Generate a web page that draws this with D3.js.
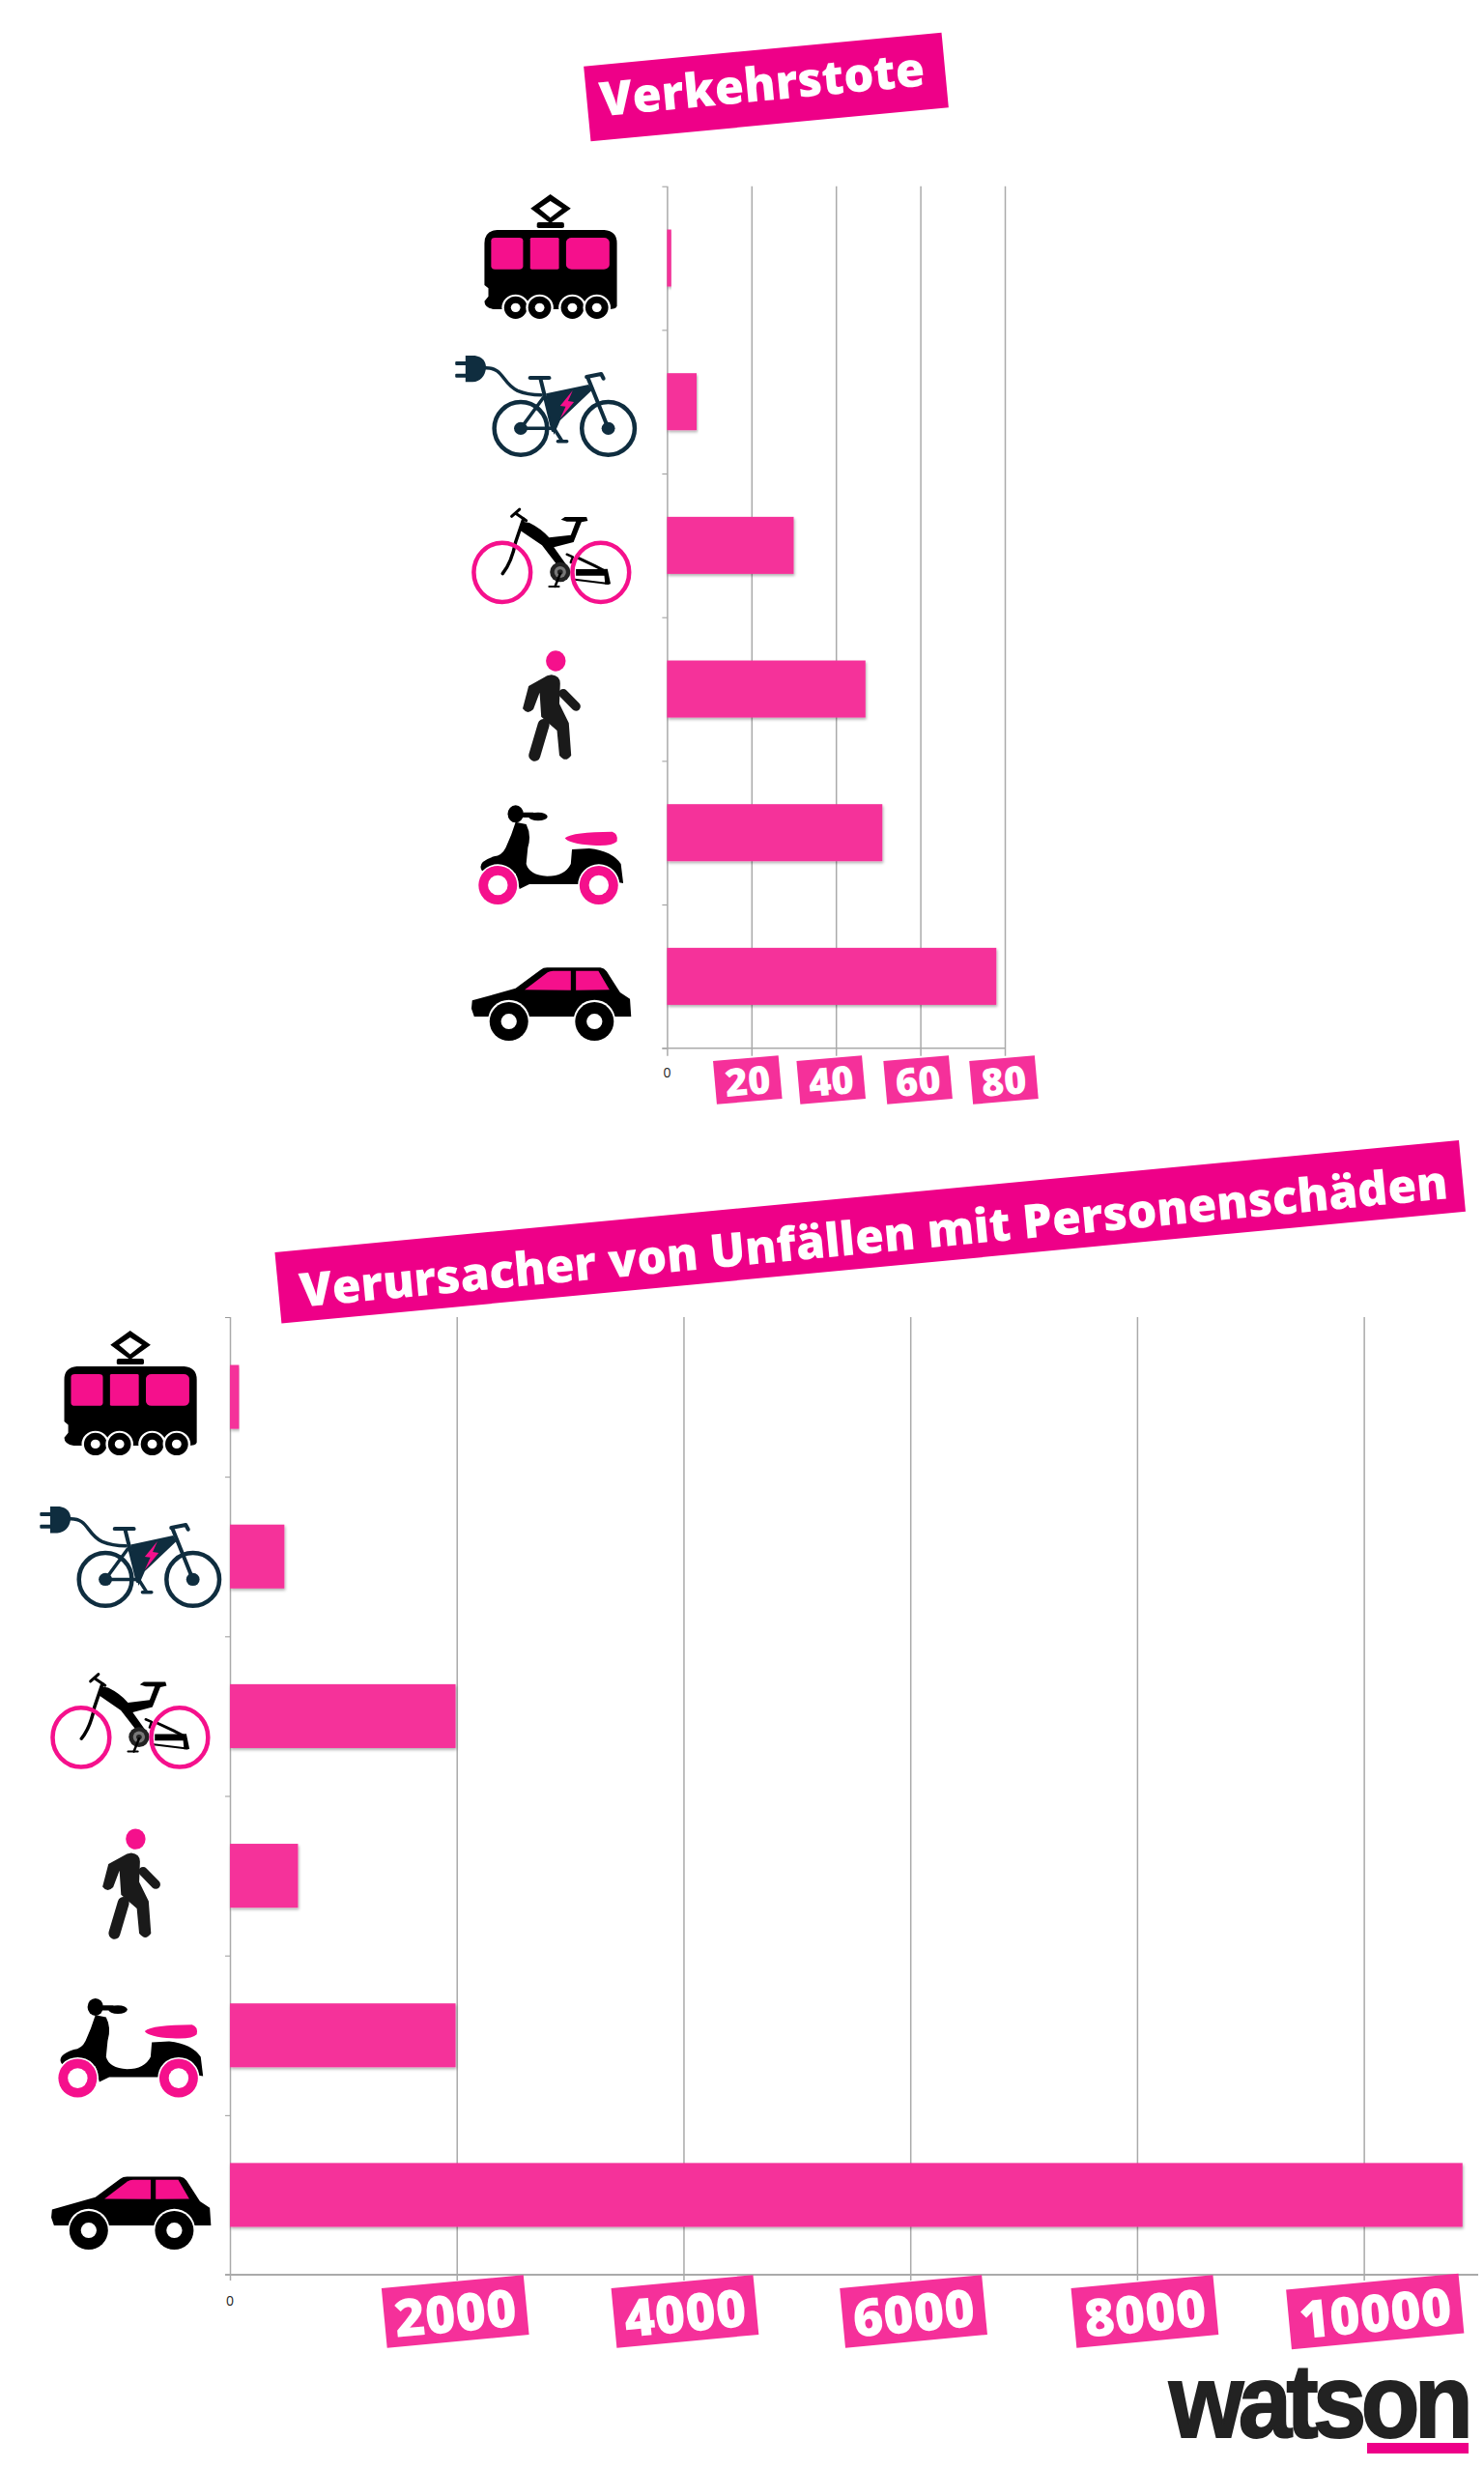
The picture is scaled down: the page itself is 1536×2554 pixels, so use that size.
<!DOCTYPE html>
<html>
<head>
<meta charset="utf-8">
<script src="https://d3js.org/d3.v7.min.js"></script>
<style>
    html, body { margin: 0; padding: 0; background: #fff; }
    svg { display: block; }
    text { font-family: "Open Sans", sans-serif; }
</style>
</head>
<body>
<div id="chart"></div>
<script>
// Chart data
const categories = ['tram', 'ebike', 'bike', 'walker', 'scooter', 'car'];
const deaths = [1, 7, 30, 47, 51, 78];
const causers = [80, 480, 1990, 600, 1990, 10870];
const deathTicks = [0, 20, 40, 60, 80];
const causerTicks = [0, 2000, 4000, 6000, 8000, 10000];
const titleDeaths = 'Verkehrstote';
const titleCausers = 'Verursacher von Unfällen mit Personenschäden';

const PINK = '#f5309a';
const TITLE_PINK = '#ee0088';
const ICON_PINK = '#f5108c';
const NAVY = '#0f2d3f';

const svg = d3.select('#chart')
    .append('svg')
    .attr('width', 1536)
    .attr('height', 2554);

// Soft shadow under the bars
const shadow = svg.append('defs').append('filter')
    .attr('id', 'bar-shadow')
    .attr('x', '-5%').attr('y', '-10%')
    .attr('width', '110%').attr('height', '125%');
shadow.append('feDropShadow')
    .attr('dx', 1).attr('dy', 2)
    .attr('stdDeviation', 1.5)
    .attr('flood-color', '#000')
    .attr('flood-opacity', 0.3);

// Icon helpers. Icon shapes are sketched on a 2.45 x 3 grid, see placeIcon
function ell(g, cx, cy, rx, ry, fill) {
    return g.append('ellipse')
        .attr('cx', cx).attr('cy', cy)
        .attr('rx', rx).attr('ry', ry)
        .attr('fill', fill);
}

function ring(g, cx, cy, rx, ry, color, width) {
    return ell(g, cx, cy, rx, ry, 'none')
        .attr('stroke', color)
        .attr('stroke-width', width)
        .attr('vector-effect', 'non-scaling-stroke');
}

function shape(g, d, fill) {
    return g.append('path').attr('d', d).attr('fill', fill);
}

function line(g, d, color, width) {
    return g.append('path')
        .attr('d', d)
        .attr('fill', 'none')
        .attr('stroke', color)
        .attr('stroke-width', width)
        .attr('stroke-linecap', 'round')
        .attr('stroke-linejoin', 'round')
        .attr('vector-effect', 'non-scaling-stroke');
}

function box(g, x, y, w, h, r, fill) {
    return g.append('rect')
        .attr('x', x).attr('y', y)
        .attr('width', w).attr('height', h)
        .attr('rx', r).attr('ry', r)
        .attr('fill', fill);
}

const iconDrawers = {
    tram(g) {
        shape(g, 'M293,93 L345,137 L293,183 L243,137 Z M293,114 L265,137 L293,166 L323,137 Z', '#000')
            .attr('fill-rule', 'evenodd');
        box(g, 259, 180, 69, 18, 5, '#000');
        shape(g, 'M158,204 L430,204 Q462,207 462,245 L462,440 Q460,450 440,450 L150,450 Q126,445 126,425 L136,410 L136,385 L126,375 L126,245 Q126,207 158,204 Z', '#000');
        box(g, 143, 228, 81, 98, 10, ICON_PINK);
        box(g, 242, 228, 73, 98, 4, ICON_PINK);
        box(g, 333, 228, 110, 98, 14, ICON_PINK);
        [205, 266, 349, 411].forEach(x => {
            ell(g, x, 445, 35, 41, '#fff');
            ell(g, x, 445, 29, 35, '#000');
            ell(g, x, 445, 12, 14, '#fff');
        });
    },
    ebike(g) {
        shape(g, 'M78,594 L102,594 Q130,600 130,632 Q126,672 96,676 L78,676 Z', NAVY);
        box(g, 52, 612, 30, 12, 3, NAVY);
        box(g, 52, 650, 30, 12, 3, NAVY);
        line(g, 'M128,632 C175,630 170,680 210,703 Q235,716 270,716', NAVY, 3.5);
        box(g, 237, 657, 58, 12, 5, NAVY);
        line(g, 'M268,665 L300,825', NAVY, 4);
        shape(g, 'M282,712 L390,684 L398,702 L318,795 L302,840 L290,770 Z', NAVY);
        shape(g, 'M350,702 L318,750 L332,752 L318,790 L353,738 L338,735 Z', ICON_PINK);
        line(g, 'M388,662 L440,820', NAVY, 4);
        line(g, 'M385,660 L422,651 L428,665', NAVY, 4);
        ring(g, 218, 820, 67, 82, NAVY, 4.5);
        ring(g, 440, 820, 67, 82, NAVY, 4.5);
        ell(g, 218, 820, 17, 20, NAVY);
        ell(g, 440, 820, 17, 20, NAVY);
        line(g, 'M218,820 L300,820 M218,820 L275,725', NAVY, 3.5);
        line(g, 'M305,825 L322,858 M312,860 L335,860', NAVY, 3.5);
    },
    bike(g) {
        line(g, 'M195,1092 L215,1070 M208,1085 L232,1105', '#000', 3);
        line(g, 'M225,1100 L205,1172 Q195,1235 172,1270', '#000', 3.5);
        shape(g, 'M222,1108 L240,1112 Q270,1130 290,1158 L345,1150 L358,1108 L335,1108 L320,1102 L330,1094 L385,1094 L388,1106 L372,1110 L352,1172 L302,1188 L335,1245 L318,1255 L272,1182 L216,1135 Z', '#000');
        ell(g, 318, 1265, 26, 31, '#222');
        ell(g, 318, 1265, 15, 18, '#777');
        ell(g, 318, 1265, 7, 8, '#222');
        line(g, 'M305,1310 L318,1270', '#000', 2.5);
        line(g, 'M290,1310 L315,1310', '#000', 2);
        line(g, 'M335,1210 L350,1218 L345,1235', '#000', 2.5);
        line(g, 'M365,1222 L405,1245 L432,1262', '#000', 3);
        shape(g, 'M358,1256 L420,1256 L438,1255 L446,1302 L432,1303 L430,1276 L358,1276 Z', '#000');
        line(g, 'M355,1288 L440,1301', '#000', 2);
        ring(g, 171, 1266, 72, 92, ICON_PINK, 4.5);
        ring(g, 421, 1266, 72, 92, ICON_PINK, 4.5);
    },
    walker(g) {
        ell(g, 307, 102, 25, 32, ICON_PINK);
        shape(g, 'M296,145 Q318,148 318,172 L316,235 L340,295 L346,395 Q332,420 316,395 L310,318 L270,275 L266,200 L250,252 Q235,270 223,250 L238,180 L285,148 Z', '#1a1a1a');
        line(g, 'M276,300 L253,395', '#1a1a1a', 12);
        line(g, 'M326,203 L358,243', '#1a1a1a', 9.5);
    },
    scooter(g) {
        shape(g, 'M205,600 L232,607 Q246,640 236,680 L232,730 Q240,765 285,768 Q330,768 345,730 L348,685 L392,682 Q450,690 472,730 L478,790 L460,786 L365,793 L240,793 L215,808 L205,760 L120,752 Q105,725 150,707 Q170,705 180,680 Q195,640 205,600 Z', '#000');
        ell(g, 205, 575, 20, 27, '#000');
        box(g, 222, 570, 30, 16, 3, '#000');
        ell(g, 262, 583, 24, 13, '#000');
        shape(g, 'M330,650 Q350,630 450,630 Q466,636 462,660 Q450,676 400,672 Q340,668 330,650 Z', ICON_PINK);
        [160, 416].forEach(x => {
            ell(g, x, 796, 53, 65, '#fff');
            ell(g, x, 796, 49, 60, ICON_PINK);
            ell(g, x, 796, 25, 31, '#fff');
        });
    },
    car(g) {
        shape(g, 'M95,1155 L205,1117 L268,1060 Q275,1053 285,1053 L420,1053 Q430,1055 436,1065 L470,1130 L495,1150 L498,1205 L100,1205 L93,1180 Z', '#000');
        shape(g, 'M228,1122 L286,1068 Q292,1063 300,1063 L345,1063 L345,1123 Z', ICON_PINK);
        shape(g, 'M358,1063 L415,1063 L443,1122 L358,1123 Z', ICON_PINK);
        [188, 405].forEach(x => {
            ell(g, x, 1218, 53, 65, '#fff');
            ell(g, x, 1220, 49, 60, '#000');
            ell(g, x, 1220, 20, 24, '#fff');
        });
    }
};

// Vertical centre of each icon on its sketch grid
const iconCentres = {tram: 291, ebike: 737, bike: 1182, walker: 189, scooter: 633, car: 1080};

function placeIcon(parent, name, x0, cy) {
    const g = parent.append('g')
        .attr('transform', `translate(${x0 - 589 / 2.45},${cy - iconCentres[name] / 3}) scale(${1 / 2.45},${1 / 3})`);
    iconDrawers[name](g);
}

// Tilted pink label with white text, width follows the text
function pinkLabel(parent, cx, cy, label, opts) {
    const g = parent.append('g')
        .attr('transform', `translate(${cx},${cy}) rotate(${opts.angle})`);
    const rect = g.append('rect').attr('fill', opts.fill);
    const text = g.append('text')
        .attr('text-anchor', 'middle')
        .attr('dominant-baseline', 'central')
        .attr('x', opts.textDx || 0)
        .attr('y', opts.textDy || 0)
        .attr('fill', '#fff')
        .attr('font-weight', 800)
        .attr('font-size', opts.fontSize)
        .text(label);
    const w = opts.width || text.node().getComputedTextLength() + opts.pad;
    rect.attr('x', -w / 2).attr('y', -opts.height / 2)
        .attr('width', w).attr('height', opts.height);
}

// Draw one bar chart with icons on the left
function drawChart(o) {
    const g = svg.append('g');

    const x = d3.scaleLinear().domain(o.domain).range([o.x0, o.x1]);
    const yEdge = d3.scaleLinear().domain([0, categories.length]).range([o.top, o.bottom]);
    const y = d3.scaleBand()
        .domain(categories)
        .range([o.top, o.bottom])
        .paddingInner(o.barPadding)
        .paddingOuter(o.barPadding / 2);

    // Gridlines come from the bottom axis
    const xAxis = g.append('g')
        .attr('transform', `translate(0,${o.bottom})`)
        .call(d3.axisBottom(x)
            .tickValues(o.ticks)
            .tickSize(-(o.bottom - o.top))
            .tickFormat(''));
    xAxis.select('.domain').remove();
    xAxis.selectAll('line')
        .attr('y2', -(o.bottom - o.top))
        .attr('y1', o.tickLength)
        .attr('stroke', '#aaa')
        .attr('stroke-width', 1.5);

    // Small category ticks on the left axis
    const yAxis = g.append('g')
        .attr('transform', `translate(${o.x0},0)`)
        .call(d3.axisLeft(yEdge).ticks(categories.length).tickFormat('').tickSizeOuter(0).tickSize(5));
    yAxis.select('.domain').remove();
    yAxis.selectAll('line').attr('stroke', '#999').attr('stroke-width', 1);

    // Baseline
    g.append('line')
        .attr('x1', o.x0 - 5).attr('x2', o.baseEnd)
        .attr('y1', o.bottom).attr('y2', o.bottom)
        .attr('stroke', '#aaa')
        .attr('stroke-width', o.baseWidth);

    g.selectAll('.bar')
        .data(categories)
        .enter()
        .append('rect')
        .attr('class', 'bar')
        .attr('x', o.x0)
        .attr('y', d => y(d))
        .attr('width', (d, i) => x(o.values[i]) - o.x0)
        .attr('height', y.bandwidth())
        .attr('fill', PINK)
        .attr('filter', 'url(#bar-shadow)');

    categories.forEach((name, i) => {
        placeIcon(g, name, o.x0 + o.iconShift + o.iconNudgeX[i], y(name) + y.bandwidth() / 2 + o.iconNudgeY[i]);
    });

    // The zero stays small, the others sit on pink labels
    g.append('text')
        .attr('x', x(0))
        .attr('y', o.zeroY)
        .attr('text-anchor', 'middle')
        .attr('font-size', 14)
        .attr('fill', '#222')
        .text('0');

    o.ticks.filter(t => t > 0).forEach((t, i) => {
        pinkLabel(g, x(t) + o.labelNudge[i], o.labelY, String(t), {
            angle: o.labelAngle,
            fill: PINK,
            fontSize: o.labelSize,
            height: o.labelHeight,
            pad: o.labelPad
        });
    });

    pinkLabel(g, o.titleX, o.titleY, o.title, {
        angle: -5.4,
        fill: TITLE_PINK,
        fontSize: o.titleSize,
        height: o.titleHeight,
        width: o.titleWidth,
        textDx: o.titleDx,
        textDy: o.titleDy
    });
}

drawChart({
    title: titleDeaths,
    values: deaths,
    ticks: deathTicks,
    domain: [0, 80],
    x0: 690.4, x1: 1040,
    top: 192.7, bottom: 1084.7,
    barPadding: 0.603,
    baseEnd: 1041, baseWidth: 1.5,
    tickLength: 8,
    iconShift: 0,
    iconNudgeX: [0, 0, 0, 0, 0, 0],
    iconNudgeY: [0, 0, 0, 0, 0, 0],
    zeroY: 1115,
    labelNudge: [-4, -5, -2.5, -1],
    labelY: 1117.5,
    labelAngle: -5,
    labelSize: 40,
    labelHeight: 45,
    labelPad: 21,
    titleX: 793, titleY: 90,
    titleSize: 49,
    titleHeight: 78,
    titleWidth: 372,
    titleDx: -4,
    titleDy: -5
});

drawChart({
    title: titleCausers,
    values: causers,
    ticks: causerTicks,
    domain: [0, 11000],
    x0: 238, x1: 1529,
    top: 1363, bottom: 2354,
    barPadding: 0.6,
    baseEnd: 1530, baseWidth: 2,
    tickLength: 6,
    iconShift: 17.5,
    iconNudgeX: [0, 5, -1, 0, 0, 0],
    iconNudgeY: [-2.5, -4, -6, -9, -10, -10],
    zeroY: 2386,
    labelNudge: [-1.5, 1.5, 3.4, 8, 11.6],
    labelY: 2392,
    labelAngle: -5.4,
    labelSize: 54,
    labelHeight: 62,
    labelPad: 21,
    titleX: 900.7, titleY: 1274.8,
    titleSize: 48.5,
    titleHeight: 74,
    titleWidth: 1231,
    titleDx: 3,
    titleDy: 3
});

// watson logo
const logo = svg.append('g');
logo.append('text')
    .attr('transform', 'translate(1210,2522) scale(0.92,1)')
    .attr('font-size', 108)
    .attr('font-weight', 700)
    .attr('letter-spacing', -6)
    .attr('fill', '#222')
    .attr('stroke', '#222')
    .attr('stroke-width', 2)
    .style('font-family', '"Liberation Sans", sans-serif')
    .text('watson');
logo.append('rect')
    .attr('x', 1415).attr('y', 2528)
    .attr('width', 105).attr('height', 11)
    .attr('fill', TITLE_PINK);
</script>
</body>
</html>
